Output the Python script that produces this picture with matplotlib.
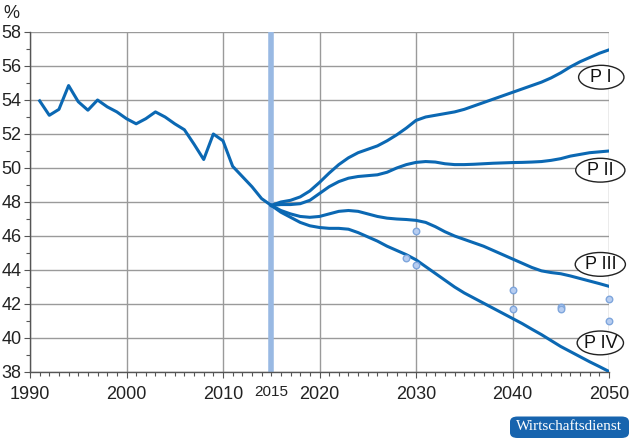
import matplotlib
matplotlib.use("Agg")
import matplotlib.pyplot as plt
from matplotlib.patches import FancyBboxPatch, Ellipse
import matplotlib.transforms as mtransforms

plt.rcParams['font.family'] = ['Liberation Sans', 'DejaVu Sans']

hist_years = list(range(1991, 2016))
hist_vals = [53.95, 53.1, 53.45, 54.85, 53.9, 53.4, 54.0, 53.6, 53.3, 52.9,
             52.6, 52.9, 53.3, 53.0, 52.6, 52.25, 51.4, 50.5, 52.0, 51.6,
             50.1, 49.5, 48.9, 48.2, 47.8]

proj_years = list(range(2015, 2051))
p1 = [47.8, 48.0, 48.1, 48.3, 48.65, 49.15, 49.7, 50.2, 50.6, 50.9,
      51.1, 51.3, 51.6, 51.95, 52.35, 52.8, 53.0, 53.1, 53.2, 53.3,
      53.45, 53.65, 53.85, 54.05, 54.25, 54.45, 54.65, 54.85, 55.05, 55.3,
      55.6, 55.95, 56.25, 56.5, 56.75, 56.95]
p2 = [47.8, 47.85, 47.85, 47.9, 48.1, 48.5, 48.9, 49.2, 49.4, 49.5,
      49.55, 49.6, 49.75, 50.0, 50.2, 50.33, 50.38, 50.35, 50.25, 50.2,
      50.2, 50.22, 50.25, 50.28, 50.3, 50.32, 50.33, 50.35, 50.38, 50.45,
      50.55, 50.7, 50.8, 50.9, 50.95, 51.0]
p3 = [47.8, 47.5, 47.3, 47.15, 47.1, 47.15, 47.3, 47.45, 47.5, 47.45,
      47.3, 47.15, 47.05, 47.0, 46.97, 46.92, 46.8, 46.55, 46.25, 46.0,
      45.8, 45.6, 45.4, 45.15, 44.9, 44.65, 44.4, 44.15, 43.95, 43.85,
      43.78, 43.65, 43.5, 43.35, 43.2, 43.04]
p4 = [47.8, 47.4, 47.1, 46.8, 46.6, 46.5, 46.45, 46.45, 46.4, 46.2,
      45.95, 45.7, 45.4, 45.15, 44.9, 44.6, 44.2, 43.8, 43.4, 43.0,
      42.65, 42.35, 42.05, 41.75, 41.45, 41.15, 40.85, 40.52, 40.2, 39.85,
      39.5, 39.2, 38.9, 38.6, 38.32, 38.03]

pt_years = [2029, 2030, 2030, 2040, 2040, 2045, 2045, 2050, 2050]
pt_vals = [44.7, 46.3, 44.3, 42.8, 41.7, 41.82, 41.7, 42.3, 41.0]

scen_labels = ["P I", "P II", "P III", "P IV"]
label_x = [2049.2, 2049.1, 2049.1, 2049.1]
label_y = [55.34, 49.87, 44.33, 39.71]
label_w = [4.7, 5.1, 5.2, 4.8]

x_major = [1990, 2000, 2010, 2020, 2030, 2040, 2050]
y_major = [38, 40, 42, 44, 46, 48, 50, 52, 54, 56, 58]

line_c = "#0b68b3"
fig = plt.figure(figsize=(6.3, 4.41), dpi=100)
ax = fig.add_axes([30/630, 1-372/441, 579/630, 340/441])

ax.set_xlim(1990, 2050)
ax.set_ylim(38, 58)
ax.set_xticks(x_major)
ax.set_yticks(y_major)
ax.set_xticks(range(1990, 2051), minor=True)
ax.set_yticks(range(38, 59), minor=True)
ax.grid(True, which='major', color='#9a9a9a', lw=1.0)
ax.set_axisbelow(True)
for s in ['top', 'right']:
    ax.spines[s].set_visible(False)
for s in ['left', 'bottom']:
    ax.spines[s].set_color('#555555')
    ax.spines[s].set_linewidth(1.0)
ax.tick_params(which='major', length=0, labelsize=13, colors='#222222', pad=5)
ax.tick_params(which='minor', length=3, width=0.8, color='#555555')
ax.tick_params(axis='y', which='major', length=4, width=0.8, color='#555555', pad=2)
ax.tick_params(axis='x', which='major', length=4, width=0.8, color='#555555', pad=6)

ax.axvline(2015, color='#99b9e3', lw=4, zorder=2)

ax.plot(hist_years, hist_vals, color=line_c, lw=2.2, zorder=4, solid_joinstyle='round')
for ser in [p1, p2, p3, p4]:
    ax.plot(proj_years, ser, color=line_c, lw=2.2, zorder=4, solid_joinstyle='round')

ax.scatter(pt_years, pt_vals, s=22, facecolor='#b7cdf0', edgecolor='#7fa6dc',
           linewidths=1.0, zorder=5, clip_on=False)

for lab, lx, ly, lw_ in zip(scen_labels, label_x, label_y, label_w):
    e = Ellipse((lx, ly), lw_, 1.4, fc='white', ec='#222222', lw=1.0, zorder=6,
                clip_on=False)
    ax.add_patch(e)
    ax.text(lx, ly - 0.02, lab, fontsize=13, ha='center', va='center', zorder=7,
            color='#111111', clip_on=False)

trans = mtransforms.blended_transform_factory(ax.transData, ax.transAxes)
ax.text(2015, -0.038, "2015", transform=trans, fontsize=11, ha='center', va='top',
        color='#222222')

fig.text(3/630, 1-13/441, "%", fontsize=13, ha='left', va='center', color='#222222')

badge = FancyBboxPatch((510/630, 1-438/441), 119/630, 21.5/441,
                       boxstyle='round,pad=0,rounding_size=0.012',
                       transform=fig.transFigure, fc='#1764ae', ec='none')
fig.patches.append(badge)
fig.text(569/630, 1-427/441, "Wirtschaftsdienst", fontsize=11,
         family=['Liberation Serif', 'DejaVu Serif'], color='white',
         ha='center', va='center')

fig.savefig("out.png", dpi=100)
